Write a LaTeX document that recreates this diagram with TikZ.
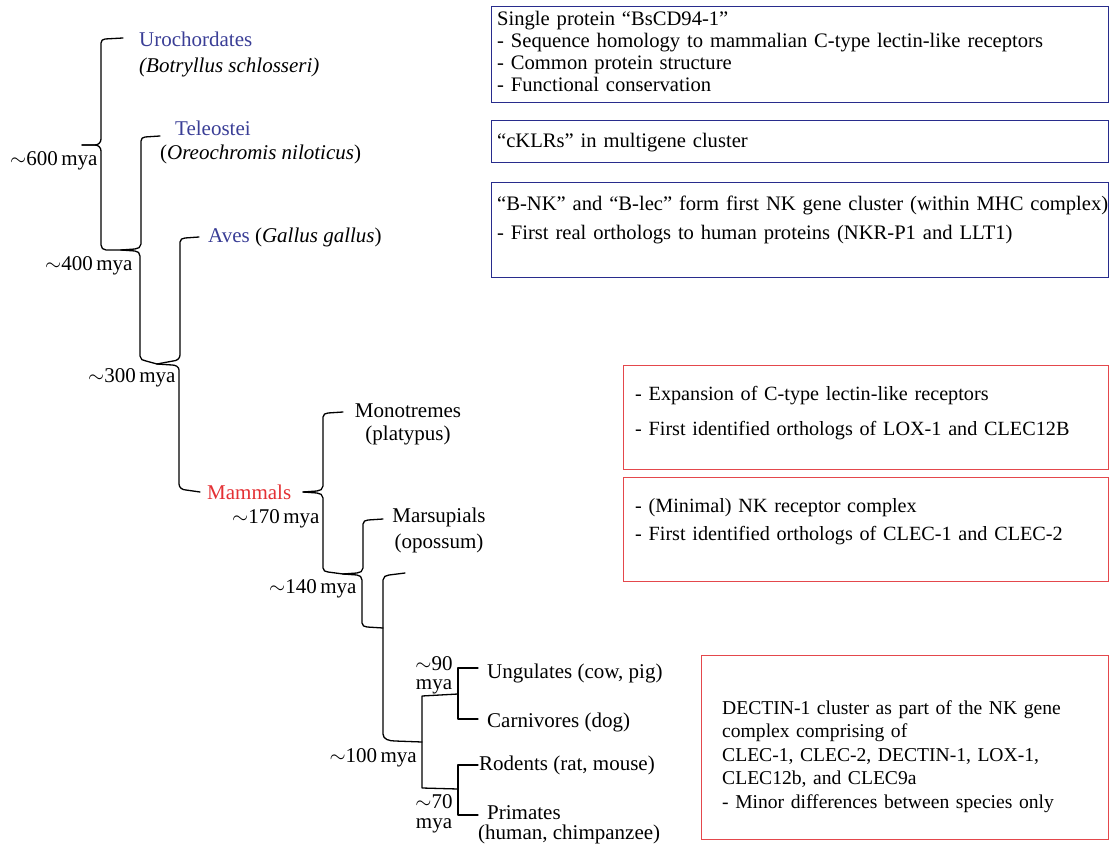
\documentclass[tikz,border=0pt]{standalone}
\usepackage{fontspec}
\setmainfont{Liberation Serif}
\definecolor{blueT}{RGB}{58,62,150}
\definecolor{blueB}{RGB}{40,44,140}
\definecolor{redT}{RGB}{228,48,52}
\definecolor{redB}{RGB}{228,72,76}
\begin{document}
\begin{tikzpicture}[x=1pt,y=-1pt,
  tree/.style={line width=1.3pt, line join=round, line cap=round},
  lbl/.style={font=\fontsize{21}{22}\selectfont, inner sep=0pt},
  boxtxt/.style={inner sep=0pt, font=\fontsize{20.6}{22}\selectfont, anchor=base west, text width=700pt, align=left},
  bluebox/.style={draw=blueB, line width=1.3pt, anchor=north west, inner sep=0pt},
  redbox/.style={draw=redB, line width=1.3pt, anchor=north west, inner sep=0pt}]
\useasboundingbox (0,0) rectangle (1109,845);

% ---------- boxes ----------
\node[bluebox, minimum width=617pt, minimum height=96pt] (b1) at (491,6) {};
\node[bluebox, minimum width=617pt, minimum height=42pt] (b2) at (491,120) {};
\node[bluebox, minimum width=617pt, minimum height=95pt] (b3) at (491,182) {};
\node[redbox, minimum width=485pt, minimum height=104pt] (b4) at (623,365) {};
\node[redbox, minimum width=485pt, minimum height=104pt] (b5) at (623,477) {};
\node[redbox, minimum width=407pt, minimum height=184pt] (b6) at (701,655) {};

\node[boxtxt] (t1) at (497,26) {Single protein “BsCD94-1”\\- Sequence homology to mammalian C-type lectin-like receptors\\- Common protein structure\\- Functional conservation};
\node[boxtxt] (t2) at (497,148) {“cKLRs” in multigene cluster};
\node[boxtxt] (t3) at (497,211) {“B-NK” and “B-lec” form first NK gene cluster (within MHC complex)\\[7pt]- First real orthologs to human proteins (NKR-P1 and LLT1)};
\node[boxtxt, font=\fontsize{20.2}{22}\selectfont] (t4) at (635,400) {- Expansion of C-type lectin-like receptors\\[13pt]- First identified orthologs of LOX-1 and CLEC12B};
\node[boxtxt, font=\fontsize{20.2}{22}\selectfont] (t5) at (635,512) {- (Minimal) NK receptor complex\\[6pt]- First identified orthologs of CLEC-1 and CLEC-2};
\node[boxtxt, font=\fontsize{19.6}{23.5}\selectfont] (t6) at (722,714) {DECTIN-1 cluster as part of the NK gene\\complex comprising of\\CLEC-1, CLEC-2, DECTIN-1, LOX-1,\\CLEC12b, and CLEC9a\\- Minor differences between species only};

% ---------- tree labels ----------
\node[lbl, anchor=base west, text=blueT] (uro) at (139,47) {Urochordates};
\node[lbl, anchor=base west] (bot) at (139,73) {\textit{(Botryllus schlosseri)}};
\node[lbl, anchor=base west, text=blueT] (tel) at (175,136) {Teleostei};
\node[lbl, anchor=base west] (oreo) at (160,160) {(\textit{Oreochromis niloticus})};
\node[lbl, anchor=base west] (aves) at (208,243) {\textcolor{blueT}{Aves} (\textit{Gallus gallus})};
\node[lbl, anchor=base west] (m600) at (10,166) {$\sim$600\,mya};
\node[lbl, anchor=base west] (m400) at (45,271) {$\sim$400\,mya};
\node[lbl, anchor=base west] (m300) at (88,382) {$\sim$300\,mya};
\node[lbl, anchor=base west, text=redT] (mam) at (207,499) {Mammals};
\node[lbl, anchor=base west] (m170) at (232,523) {$\sim$170\,mya};
\node[lbl, anchor=base] (mono) at (408,417) {Monotremes};
\node[lbl, anchor=base] (platy) at (408,440) {(platypus)};
\node[lbl, anchor=base] (mars) at (439,522) {Marsupials};
\node[lbl, anchor=base] (opos) at (439,548) {(opossum)};
\node[lbl, anchor=base west] (m140) at (269,593) {$\sim$140\,mya};
\node[lbl, anchor=base east] (m100) at (417,762) {$\sim$100\,mya};
\node[lbl, anchor=base] (m90a) at (434,670) {$\sim$90};
\node[lbl, anchor=base] (m90b) at (434,689) {mya};
\node[lbl, anchor=base] (m70a) at (434,808) {$\sim$70};
\node[lbl, anchor=base] (m70b) at (434,828) {mya};
\node[lbl, anchor=base west] (ung) at (487,678) {Ungulates (cow, pig)};
\node[lbl, anchor=base west] (carn) at (487,727) {Carnivores (dog)};
\node[lbl, anchor=base west] (rod) at (479,770) {Rodents (rat, mouse)};
\node[lbl, anchor=base west] (prim) at (487,819) {Primates};
\node[lbl, anchor=base west] (hum) at (478,839) {(human, chimpanzee)};

% ---------- tree joints ----------
\coordinate (cUro) at (123,38);
\coordinate (n600) at (82,145);
\coordinate (n400) at (121,250);
\coordinate (cTel) at (160,136);
\coordinate (cAves) at (199,237);
\coordinate (n300) at (157,364);
\coordinate (cMam) at (200,492);
\coordinate (n170) at (303,492);
\coordinate (cMono) at (343,412);
\coordinate (n140) at (343,574);
\coordinate (cMars) at (383,519);
\coordinate (cPl) at (405,573);
\coordinate (j140) at (383,628);
\coordinate (n100) at (422,742);
\coordinate (n90) at (458,694);
\coordinate (n70) at (458,789);
\coordinate (cUng) at (478,668);
\coordinate (cCar) at (478,719);
\coordinate (cRod) at (478,765);
\coordinate (cPri) at (478,815);

\draw[tree] (cUro) -- (105,39) to[out=180,in=90] (101,43) -- (101,139) to[out=-90,in=0] (95,145) -- (n600);
\draw[tree] (n600) -- (95,145) to[out=0,in=90] (101,151) -- (101,245) to[out=-90,in=180] (106,250) -- (n400);
\draw[tree] (cTel) -- (145,137) to[out=180,in=90] (141,141) -- (141,244) to[out=-90,in=0] (135,249) -- (n400);
\draw[tree] (n400) -- (135,251) to[out=0,in=90] (140,256) -- (140,356) to[out=-90,in=180] (146,361) -- (n300);
\draw[tree] (cAves) -- (185,238) to[out=180,in=90] (180,242) -- (180,355) to[out=-90,in=0] (173,361) -- (n300);
\draw[tree] (n300) -- (172,365) to[out=0,in=90] (179,370) -- (179,484) to[out=-90,in=180] (186,490) -- (cMam);
\draw[tree] (cMono) -- (328,413) to[out=180,in=90] (323,417) -- (323,486) to[out=-90,in=0] (317,491) -- (n170);
\draw[tree] (n170) -- (317,493) to[out=0,in=90] (323,498) -- (323,568) to[out=-90,in=180] (328,572) -- (n140);
\draw[tree] (cMars) -- (368,520) to[out=180,in=90] (363,524) -- (363,568) to[out=-90,in=0] (357,573) -- (n140);
\draw[tree] (n140) -- (357,575) to[out=0,in=90] (362,580) -- (362,623) to[out=-90,in=180] (367,627) -- (j140);
\draw[tree] (cPl) -- (389,575) to[out=180,in=90] (383,580) -- (383,734) to[out=-90,in=180] (395,741) -- (n100);
\draw[tree] (n90) -- (422,696) -- (n100) -- (422,788) -- (n70);
\draw[tree] (cUng) -- (458,668) -- (n90) -- (458,719) -- (cCar);
\draw[tree] (cRod) -- (458,765) -- (n70) -- (458,815) -- (cPri);
\end{tikzpicture}
\end{document}
